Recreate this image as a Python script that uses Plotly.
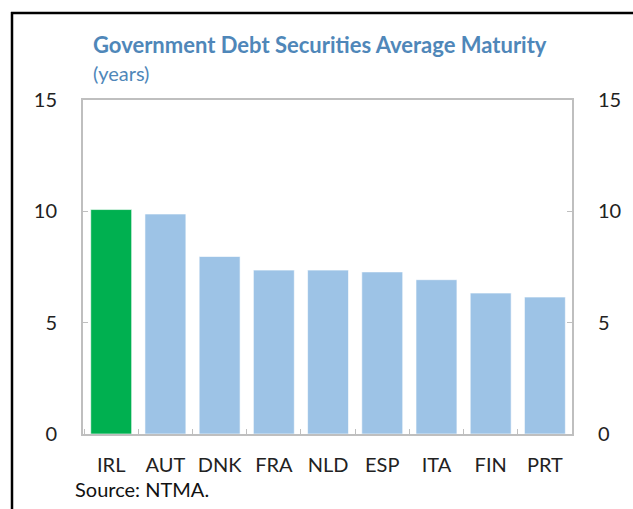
import plotly.graph_objects as go

# Average maturity of government debt securities, in years
countries = ["IRL", "AUT", "DNK", "FRA", "NLD", "ESP", "ITA", "FIN", "PRT"]
maturity_years = [10.08, 9.88, 7.97, 7.36, 7.36, 7.28, 6.93, 6.33, 6.15]
y_ticks = [0, 5, 10, 15]

GREEN = "#00b050"
BLUE = "#9dc3e6"
AXIS_GREY = "#bfbfbf"
TITLE_BLUE = "#4f87b9"
FONT = "Lato, Open Sans, sans-serif"

bar_colors = [GREEN if c == "IRL" else BLUE for c in countries]

W, H = 633, 509
L, R, T, B = 83, 61, 100, 75
pw, ph = W - L - R, H - T - B


def px_x(x):
    return (x - L) / pw


def px_y(y):
    return (H - B - y) / ph


fig = go.Figure()
fig.add_trace(go.Bar(
    x=countries, y=maturity_years,
    marker=dict(color=bar_colors, line=dict(color="rgba(255,255,255,0.6)", width=1)),
    hoverinfo="x+y", showlegend=False,
))
# invisible trace so the right-hand value axis is drawn
fig.add_trace(go.Scatter(x=[countries[0]], y=[0], yaxis="y2", mode="markers",
                         marker=dict(opacity=0), showlegend=False, hoverinfo="skip"))

axis_font = dict(family=FONT, size=20, color="#222222")

fig.update_layout(
    width=W, height=H,
    margin=dict(l=L, r=R, t=T, b=B, pad=0),
    paper_bgcolor="white", plot_bgcolor="white",
    bargap=0.245,
    xaxis=dict(
        type="category", showline=True, linecolor=AXIS_GREY, linewidth=2,
        mirror=True, ticks="inside", tickson="boundaries", ticklen=5,
        tickcolor=AXIS_GREY, tickwidth=1, showgrid=False,
        tickfont=axis_font, ticklabelstandoff=12,
    ),
    yaxis=dict(
        range=[0, 15], tickvals=y_ticks, showline=True, linecolor=AXIS_GREY,
        linewidth=2, ticks="inside", ticklen=5, tickcolor=AXIS_GREY,
        showgrid=False, zeroline=False, tickfont=axis_font, ticklabelstandoff=20,
    ),
    yaxis2=dict(
        range=[0, 15], tickvals=y_ticks, overlaying="y", side="right",
        showline=True, linecolor=AXIS_GREY, linewidth=2, ticks="inside",
        ticklen=5, tickcolor=AXIS_GREY, showgrid=False, zeroline=False,
        tickfont=axis_font, ticklabelstandoff=20,
    ),
    annotations=[
        dict(text="<b>Government Debt Securities Average Maturity</b>",
             xref="paper", yref="paper", x=px_x(91), y=px_y(45),
             xanchor="left", yanchor="middle", showarrow=False,
             font=dict(family=FONT, size=22, color=TITLE_BLUE)),
        dict(text="(years)", xref="paper", yref="paper", x=px_x(91), y=px_y(73),
             xanchor="left", yanchor="middle", showarrow=False,
             font=dict(family=FONT, size=20, color=TITLE_BLUE)),
        dict(text="Source: NTMA.", xref="paper", yref="paper", x=px_x(73), y=px_y(489),
             xanchor="left", yanchor="middle", showarrow=False,
             font=dict(family=FONT, size=20, color="#111111")),
    ],
    shapes=[
        dict(type="line", xref="paper", yref="paper", x0=px_x(12), x1=px_x(12),
             y0=px_y(12), y1=px_y(H + 5), line=dict(color="black", width=2.5)),
        dict(type="line", xref="paper", yref="paper", x0=px_x(11), x1=px_x(W + 5),
             y0=px_y(13), y1=px_y(13), line=dict(color="black", width=2.5)),
    ],
)

fig.write_html("out.html")
